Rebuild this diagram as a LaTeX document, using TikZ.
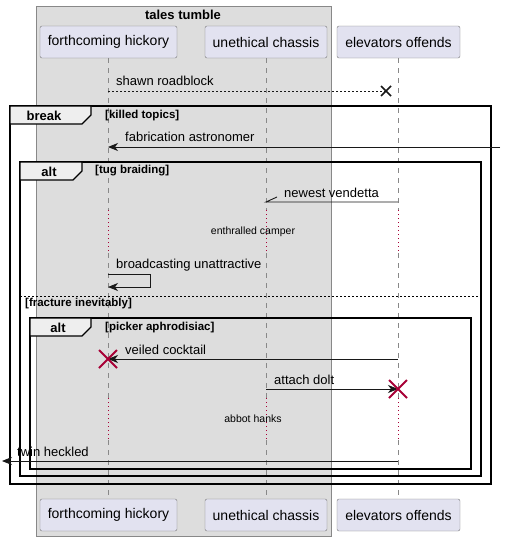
\documentclass[tikz,border=0pt]{standalone}
\usepackage{fontspec}
\setmainfont{Liberation Sans}
\usetikzlibrary{arrows.meta,calc}
\definecolor{grpfill}{HTML}{DDDDDD}
\definecolor{grpline}{HTML}{888888}
\definecolor{partfill}{HTML}{E2E2F0}
\definecolor{partline}{HTML}{777777}
\definecolor{crim}{HTML}{A80036}
\definecolor{tabfill}{HTML}{EEEEEE}
\definecolor{msgline}{HTML}{181818}
\tikzset{
  part/.style={draw=partline, fill=partfill, rounded corners=2pt, minimum height=32pt, inner sep=0pt, font=\fontsize{14}{16}\selectfont},
  lifeline/.style={draw=grpline, dash pattern=on 5pt off 5pt, line width=0.8pt},
  delayline/.style={draw=crim, dash pattern=on 1pt off 3pt, line width=0.8pt},
  msg/.style={draw=msgline, line width=0.9pt, -{Stealth[length=10pt,width=8pt,inset=3pt]}},
  msglabel/.style={anchor=west, inner sep=0pt, font=\fontsize{13}{15}\selectfont},
  frameline/.style={draw=black, line width=1.5pt},
  tab/.style={draw=black, line width=1.2pt, fill=tabfill},
  tabtext/.style={inner sep=0pt, font=\bfseries\fontsize{13}{15}\selectfont},
  guard/.style={anchor=west, inner sep=0pt, font=\bfseries\fontsize{11.5}{13}\selectfont},
  delaytext/.style={inner sep=0pt, font=\fontsize{10.5}{12}\selectfont},
  destroy/.style={draw=crim, line width=2pt},
}
\begin{document}
\begin{tikzpicture}[x=1pt,y=-1pt]
\useasboundingbox (0,0) rectangle (505,541);
% group box
\draw[draw=grpline, fill=grpfill, line width=0.8pt] (36,6) rectangle (331,536);
\node[inner sep=0pt, font=\bfseries\fontsize{13}{15}\selectfont] (grptitle) at (183,15) {tales tumble};
% participants
\node[part, minimum width=137pt] (hTop) at (108.5,42) {forthcoming hickory};
\node[part, minimum width=122pt] (cTop) at (266,42) {unethical chassis};
\node[part, minimum width=123pt] (eTop) at (398.5,42) {elevators offends};
\node[part, minimum width=137pt] (hBot) at (108.5,515) {forthcoming hickory};
\node[part, minimum width=122pt] (cBot) at (266,515) {unethical chassis};
\node[part, minimum width=123pt] (eBot) at (398.5,515) {elevators offends};
% lifelines
\foreach \x/\n in {108/h,266/c,398/e}{
  \draw[lifeline] (\x,58) -- (\x,210);
  \draw[delayline] (\x,210) -- (\x,253);
  \draw[lifeline] (\x,253) -- (\x,398);
  \draw[delayline] (\x,398) -- (\x,440);
  \draw[lifeline] (\x,440) -- (\x,499);
}
% frames
\draw[frameline] (10,106) rectangle (491,484);
\draw[tab] (10,106) -- (91,106) -- (91,115) -- (82,124) -- (10,124) -- cycle;
\node[tabtext] (tbreak) at (44,115.5) {break};
\node[guard] (gkilled) at (105,116) {[killed topics]};

\draw[frameline] (20,162) rectangle (481,476);
\draw[tab] (20,162) -- (82,162) -- (82,171) -- (73,180) -- (20,180) -- cycle;
\node[tabtext] (talt1) at (49,171.5) {alt};
\node[guard] (gtug) at (95,171) {[tug braiding]};
\draw[draw=black, line width=0.8pt, dash pattern=on 2pt off 2pt] (20,296) -- (481,296);
\node[guard] (gfrac) at (25,304) {[fracture inevitably]};

\draw[frameline] (30,318) rectangle (471,469);
\draw[tab] (30,318) -- (91,318) -- (91,327) -- (82,336) -- (30,336) -- cycle;
\node[tabtext] (talt2) at (58,328) {alt};
\node[guard] (gpick) at (105,328) {[picker aphrodisiac]};

% coordinates
\coordinate (m1s) at (108,91); \coordinate (m1e) at (386,91);
\coordinate (m2s) at (500,147); \coordinate (m2e) at (108,147);
\coordinate (m3s) at (398,202); \coordinate (m3e) at (266,202);
\coordinate (m4s) at (108,274); \coordinate (m4a) at (150,274); \coordinate (m4b) at (150,287); \coordinate (m4e) at (108,287);
\coordinate (m5s) at (398,359); \coordinate (m5e) at (108,359);
\coordinate (m6s) at (266,389); \coordinate (m6e) at (398,389);
\coordinate (m7s) at (398,461); \coordinate (m7e) at (2,461);

% message 1: dashed with X
\draw[draw=msgline, line width=0.8pt, dash pattern=on 2pt off 2pt] (m1s) -- (m1e);
\draw[draw=msgline, line width=1.5pt] ($(m1e)+(-5,-5)$) -- ($(m1e)+(5,5)$) ($(m1e)+(-5,5)$) -- ($(m1e)+(5,-5)$);
\node[msglabel] (l1) at (116,81) {shawn roadblock};

\draw[msg] (m2s) -- (m2e);
\node[msglabel] (l2) at (125,137) {fabrication astronomer};

\draw[draw=msgline, line width=0.9pt] (m3s) -- (m3e) -- ++(11,-5);
\node[msglabel] (l3) at (284,193) {newest vendetta};

\node[delaytext] (d1) at (253,232) {enthralled camper};

\draw[msg] (m4s) -- (m4a) -- (m4b) -- (m4e);
\node[msglabel] (l4) at (116,265) {broadcasting unattractive};

\draw[msg] (m5s) -- (m5e);
\draw[destroy] ($(m5e)+(-9,-9)$) -- ($(m5e)+(9,9)$) ($(m5e)+(-9,9)$) -- ($(m5e)+(9,-9)$);
\node[msglabel] (l5) at (125,350) {veiled cocktail};

\draw[msg] (m6s) -- (m6e);
\draw[destroy] ($(m6e)+(-9,-9)$) -- ($(m6e)+(9,9)$) ($(m6e)+(-9,9)$) -- ($(m6e)+(9,-9)$);
\node[msglabel] (l6) at (274,380) {attach dolt};

\node[delaytext] (d2) at (253,419) {abbot hanks};

\draw[msg] (m7s) -- (m7e);
\node[msglabel] (l7) at (17,452) {twin heckled};
\end{tikzpicture}
\end{document}
